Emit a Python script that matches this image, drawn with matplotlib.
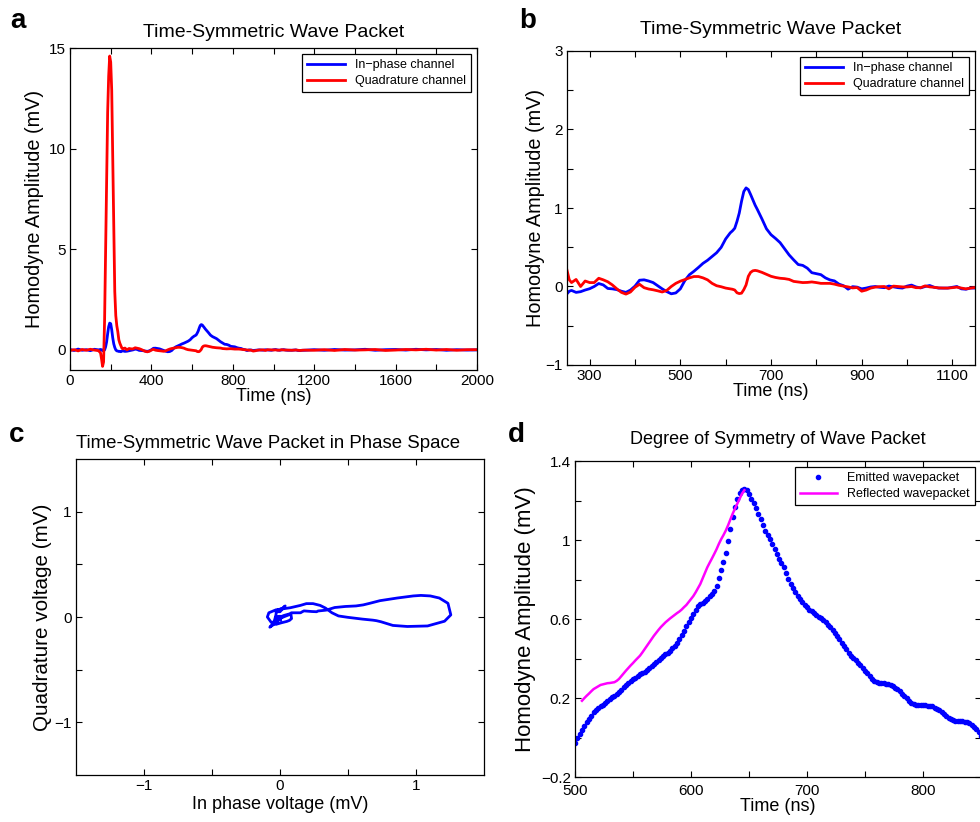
import numpy as np
import matplotlib
matplotlib.use('Agg')
import matplotlib.pyplot as plt
import matplotlib.ticker as tkr

plt.rcParams['font.family'] = ['Liberation Sans', 'DejaVu Sans']

# ---- sampled homodyne record (ns, mV), panels a, b, c ----
t_baseline = np.arange(0, 141, 20)
I_baseline = [0.02, -0.03, 0.04, -0.02, 0.01, -0.04, 0.03, 0.0]
Q_baseline = [-0.03, 0.01, -0.05, 0.02, -0.02, 0.03, -0.01, -0.04]

t_spike = np.arange(150, 261, 5)
I_spike = [0.02, -0.02, 0.0, -0.05, 0.0, 0.15, 0.4, 0.8, 1.15, 1.33, 1.3, 1.0,
           0.6, 0.3, 0.12, 0.0, -0.05, -0.06, -0.08, -0.07, -0.093, -0.06, -0.05]
Q_spike = [-0.15, -0.45, -0.82, -0.6, 1.5, 5.0, 8.8, 11.8, 13.6, 14.6, 14.3, 12.9,
           9.6, 6.0, 2.9, 1.7, 1.2, 0.9, 0.5, 0.33, 0.21, 0.085, 0.05]

t_early = np.arange(270, 611, 10)
I_early = [-0.075, -0.066, -0.045, -0.028, 0.0, 0.038, 0.02, -0.025, -0.03, -0.04,
           -0.06, -0.075, -0.045, 0.005, 0.08, 0.085, 0.07, 0.05, 0.01, -0.03,
           -0.065, -0.093, -0.082, -0.03, 0.076, 0.15, 0.194, 0.243, 0.295, 0.334,
           0.382, 0.43, 0.498, 0.606, 0.683]
Q_early = [0.09, 0.0, 0.07, 0.05, 0.05, 0.105, 0.085, 0.06, 0.02, -0.03,
           -0.075, -0.097, -0.07, -0.01, 0.028, -0.015, -0.032, -0.042, -0.055, -0.07,
           -0.05, 0.0, 0.04, 0.068, 0.088, 0.11, 0.127, 0.127, 0.11, 0.085,
           0.04, 0.01, -0.003, -0.02, -0.03]

t_peak = np.arange(615, 671, 5)
I_peak = [0.709, 0.742, 0.83, 0.936, 1.085, 1.21, 1.256, 1.235, 1.172, 1.105, 1.036, 0.98]
Q_peak = [-0.035, -0.045, -0.08, -0.09, -0.085, -0.04, 0.02, 0.13, 0.18, 0.2, 0.205, 0.2]

t_late = np.arange(680, 1151, 10)
I_late = [0.861, 0.735, 0.66, 0.612, 0.559, 0.481, 0.402, 0.339, 0.28, 0.269,
          0.234, 0.176, 0.164, 0.151, 0.11, 0.084, 0.071, 0.03, 0.01, -0.034,
          -0.002, -0.008, -0.03, -0.02, -0.006, 0.0, -0.01, -0.015, 0.006, -0.004,
          -0.015, -0.02, 0.005, 0.018, -0.006, -0.018, 0.0, 0.013, -0.01, -0.02,
          -0.02, -0.02, -0.01, 0.0, -0.03, -0.035, -0.02, -0.02]
Q_late = [0.18, 0.155, 0.13, 0.115, 0.105, 0.1, 0.09, 0.065, 0.057, 0.05,
          0.052, 0.058, 0.05, 0.04, 0.04, 0.04, 0.03, 0.015, 0.005, -0.005,
          -0.018, -0.013, -0.06, -0.045, -0.02, -0.008, -0.002, 0.0, -0.03, 0.005,
          0.0, -0.005, -0.006, 0.0, -0.015, -0.015, 0.008, -0.005, -0.01, -0.018,
          -0.02, -0.02, -0.015, -0.008, -0.02, -0.03, -0.02, -0.013]

t_tail = np.arange(1200, 2001, 50)
I_tail = [0.01, -0.02, 0.02, -0.01, 0.0, 0.03, -0.02, 0.01, 0.02, -0.01,
          0.03, 0.0, 0.02, -0.02, 0.01, -0.01, 0.0]
Q_tail = [-0.02, 0.01, -0.03, 0.02, -0.01, 0.0, 0.02, -0.03, -0.01, 0.02,
          0.0, 0.03, -0.01, 0.02, -0.02, 0.01, 0.01]

# ---- emitted wave packet, 2 ns sampling (panel d) ----
t_emit = np.arange(500, 851, 2)
I_emit = [-0.030, -0.005, 0.017, 0.037, 0.057, 0.076, 0.093, 0.110, 0.127, 0.139,
          0.150, 0.158, 0.167, 0.176, 0.185, 0.194, 0.203, 0.212, 0.220, 0.231,
          0.243, 0.254, 0.264, 0.275, 0.286, 0.295, 0.303, 0.311, 0.319, 0.327,
          0.334, 0.342, 0.351, 0.360, 0.371, 0.382, 0.392, 0.402, 0.412, 0.421,
          0.430, 0.440, 0.452, 0.464, 0.476, 0.498, 0.520, 0.541, 0.563, 0.585,
          0.606, 0.627, 0.648, 0.664, 0.674, 0.683, 0.692, 0.703, 0.714, 0.727,
          0.742, 0.766, 0.810, 0.847, 0.889, 0.936, 0.995, 1.055, 1.114, 1.166,
          1.210, 1.236, 1.252, 1.258, 1.252, 1.235, 1.210, 1.185, 1.160, 1.134,
          1.105, 1.075, 1.048, 1.025, 1.004, 0.980, 0.953, 0.929, 0.906, 0.884,
          0.861, 0.833, 0.805, 0.777, 0.756, 0.735, 0.716, 0.701, 0.686, 0.671,
          0.660, 0.648, 0.638, 0.630, 0.621, 0.612, 0.603, 0.593, 0.583, 0.571,
          0.559, 0.545, 0.530, 0.515, 0.498, 0.481, 0.464, 0.447, 0.430, 0.414,
          0.402, 0.390, 0.377, 0.365, 0.352, 0.339, 0.325, 0.311, 0.297, 0.287,
          0.280, 0.278, 0.276, 0.275, 0.272, 0.269, 0.266, 0.259, 0.252, 0.245,
          0.234, 0.222, 0.211, 0.199, 0.186, 0.176, 0.171, 0.167, 0.166, 0.165,
          0.164, 0.163, 0.162, 0.161, 0.157, 0.151, 0.145, 0.138, 0.129, 0.120,
          0.110, 0.101, 0.093, 0.089, 0.086, 0.084, 0.083, 0.082, 0.080, 0.076,
          0.071, 0.065, 0.055, 0.042, 0.026, 0.008]
t_mirror = 647      # time-reversal centre (ns)
t_reflect_end = 788  # last emitted sample used for the reflected trace

t_all = np.concatenate([t_baseline, t_spike, t_early, t_peak, t_late, t_tail])
I_all = np.array(I_baseline + I_spike + I_early + I_peak + I_late + I_tail)
Q_all = np.array(Q_baseline + Q_spike + Q_early + Q_peak + Q_late + Q_tail)

t_emit = np.array(t_emit)
I_emit = np.array(I_emit)
sel = (t_emit >= t_mirror) & (t_emit <= t_reflect_end)
t_refl = 2 * t_mirror - t_emit[sel]
I_refl = I_emit[sel]


def fmt(x, pos):
    return ('%g' % round(x, 3)).replace('-', '\u2212')


def style(ax, xmaj, xmin, ymaj, ymin, xpad=3):
    ax.xaxis.set_major_locator(tkr.FixedLocator(xmaj))
    ax.yaxis.set_major_locator(tkr.FixedLocator(ymaj))
    if xmin is not None:
        ax.xaxis.set_minor_locator(tkr.FixedLocator(xmin))
    if ymin is not None:
        ax.yaxis.set_minor_locator(tkr.FixedLocator(ymin))
    ax.xaxis.set_major_formatter(tkr.FuncFormatter(fmt))
    ax.yaxis.set_major_formatter(tkr.FuncFormatter(fmt))
    ax.tick_params(which='both', direction='in', top=True, right=True,
                   length=4, width=0.8, labelsize=11, pad=3)
    ax.tick_params(axis='x', which='both', pad=xpad)
    for s in ax.spines.values():
        s.set_linewidth(0.9)


def add_legend(ax):
    leg = ax.legend(loc='upper right', fontsize=9, handlelength=3.0, numpoints=1,
                    fancybox=False, edgecolor='black', framealpha=1,
                    borderaxespad=0.5, borderpad=0.4, labelspacing=0.3)
    leg.get_frame().set_linewidth(0.9)


fig = plt.figure(figsize=(9.8, 8.22), dpi=100)
W, H = 980.0, 822.0


def box(x0, y0, x1, y1):
    return [x0 / W, 1 - y1 / H, (x1 - x0) / W, (y1 - y0) / H]


# ---------------- panel a ----------------
axa = fig.add_axes(box(70, 48, 477, 370))
axa.plot(t_all, I_all, color='#0000ff', lw=2.0, label='In\u2212phase channel')
axa.plot(t_all, Q_all, color='#ff0000', lw=2.0, label='Quadrature channel')
axa.set_xlim(0, 2000)
axa.set_ylim(-1, 15)
style(axa, range(0, 2001, 400), range(200, 2000, 400), [0, 5, 10, 15], None)
axa.set_xlabel('Time (ns)', fontsize=13, labelpad=0)
axa.set_ylabel('Homodyne Amplitude (mV)', fontsize=14.3)
axa.yaxis.set_label_coords(-0.063, 0.5)
axa.set_title('Time-Symmetric Wave Packet', fontsize=14, pad=8)
add_legend(axa)

# ---------------- panel b ----------------
axb = fig.add_axes(box(567, 51, 975, 365))
axb.plot(t_all, I_all, color='#0000ff', lw=2.0, label='In\u2212phase channel')
axb.plot(t_all, Q_all, color='#ff0000', lw=2.0, label='Quadrature channel')
axb.set_xlim(250, 1150)
axb.set_ylim(-1, 3)
style(axb, range(300, 1101, 200), range(400, 1100, 200), [-1, 0, 1, 2, 3],
      [-0.5, 0.5, 1.5, 2.5])
axb.set_xlabel('Time (ns)', fontsize=13, labelpad=0)
axb.set_ylabel('Homodyne Amplitude (mV)', fontsize=14.3)
axb.yaxis.set_label_coords(-0.053, 0.5)
axb.set_title('Time-Symmetric Wave Packet', fontsize=14, pad=12)
add_legend(axb)

# ---------------- panel c ----------------
win = (t_all >= 300) & (t_all <= 1150)
axc = fig.add_axes(box(76, 459, 484, 775))
axc.plot(I_all[win], Q_all[win], color='#0000ff', lw=2.0)
axc.set_xlim(-1.5, 1.5)
axc.set_ylim(-1.5, 1.5)
style(axc, [-1, 0, 1], [-0.5, 0.5], [-1, 0, 1], [-0.5, 0.5])
axc.set_xlabel('In phase voltage (mV)', fontsize=13, labelpad=2)
axc.set_ylabel('Quadrature voltage (mV)', fontsize=14.9)
axc.yaxis.set_label_coords(-0.058, 0.5)
axc.set_title('Time-Symmetric Wave Packet in Phase Space', fontsize=13.4, pad=8)
axc.title.set_x(0.47)

# ---------------- panel d ----------------
axd = fig.add_axes(box(575, 461, 981, 777))
axd.plot(t_emit, I_emit, '.', color='#0000ff', ms=6, label='Emitted wavepacket')
axd.plot(t_refl, I_refl, color='#ff00ff', lw=1.8, label='Reflected wavepacket')
axd.set_xlim(500, 850)
axd.set_ylim(-0.2, 1.4)
style(axd, [500, 600, 700, 800], [550, 650, 750], [-0.2, 0.2, 0.6, 1.0, 1.4],
      [0.0, 0.4, 0.8, 1.2], xpad=5)
axd.set_xlabel('Time (ns)', fontsize=13, labelpad=0)
axd.set_ylabel('Homodyne Amplitude (mV)', fontsize=16)
axd.yaxis.set_label_coords(-0.095, 0.5)
axd.set_title('Degree of Symmetry of Wave Packet', fontsize=13, pad=12)
add_legend(axd)

# panel letters
for x, y, s in [(10, 28, 'a'), (519, 28, 'b'), (9, 442, 'c'), (508, 442, 'd')]:
    fig.text(x / W, 1 - y / H, s, fontsize=20, fontweight='bold', va='baseline')

fig.savefig('out.png', dpi=100)
